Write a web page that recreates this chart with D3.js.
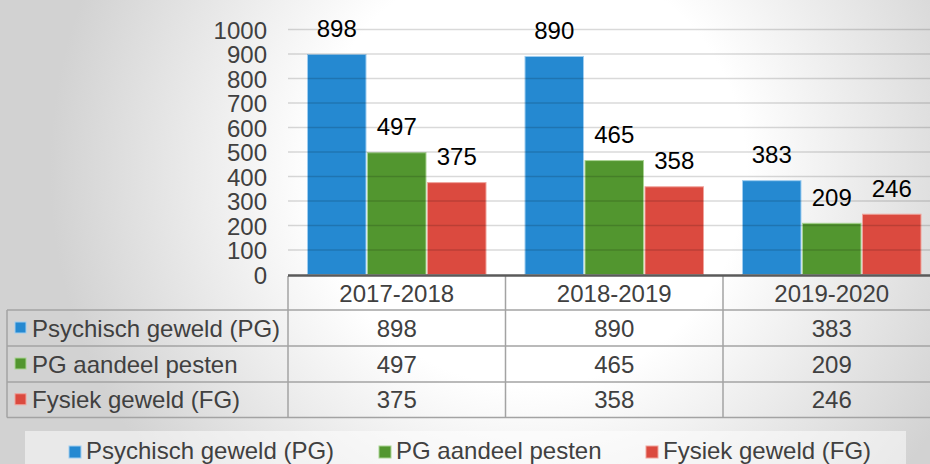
<!DOCTYPE html>
<meta charset="utf-8">
<style>
body { margin: 0; }
svg { display: block; font-family: "Liberation Sans", Arial, sans-serif; }
.axis text { font-size: 24px; fill: #404040; }
.axis path, .axis line { display: none; }
.lbl { font-size: 24px; fill: #000; text-anchor: middle; }
.cell { font-size: 24px; fill: #404040; }
.legend text { font-size: 24px; fill: #404040; }
</style>
<svg id="chart" width="930" height="464"></svg>
<script src="https://d3js.org/d3.v7.min.js"></script>
<script>

var years = ["2017-2018", "2018-2019", "2019-2020"];
var seriesNames = ["Psychisch geweld (PG)", "PG aandeel pesten", "Fysiek geweld (FG)"];
var psychisch = [898, 890, 383];
var pesten = [497, 465, 209];
var fysiek = [375, 358, 246];
var yTicks = [0, 100, 200, 300, 400, 500, 600, 700, 800, 900, 1000];

var colors = ["#2589d1", "#52962f", "#db4a3f"];
var edges = ["#9fcdf0", "#a9d393", "#f0a39c"];
var values = [psychisch, pesten, fysiek];

var W = 930, H = 464;
var plotLeft = 288, band = 217.5,
    plotTop = 29.5, plotBottom = 274.5;

var svg = d3.select("#chart");

// background
var defs = svg.append("defs");
var rg = defs.append("radialGradient")
    .attr("id", "bg")
    .attr("gradientUnits", "userSpaceOnUse")
    .attr("cx", 530).attr("cy", 170).attr("r", 480);
rg.append("stop").attr("offset", 0).attr("stop-color", "#ffffff");
rg.append("stop").attr("offset", 0.45).attr("stop-color", "#ffffff");
rg.append("stop").attr("offset", 1).attr("stop-color", "#d2d2d2");
svg.append("rect").attr("width", W).attr("height", H).attr("fill", "url(#bg)");

var x0 = d3.scaleBand()
    .domain(years)
    .range([plotLeft, plotLeft + band * years.length]);
var x1 = d3.scaleBand()
    .domain(d3.range(seriesNames.length))
    .range([19.5, band - 19.5])
    .paddingInner(0.025);
var y = d3.scaleLinear()
    .domain([0, 1000])
    .range([plotBottom, plotTop]);

// y axis labels
svg.append("g")
    .attr("class", "axis")
    .attr("transform", "translate(" + plotLeft + ",0)")
    .call(d3.axisLeft(y).tickValues(yTicks).tickFormat(d3.format("d")).tickSize(0).tickPadding(21))
    .selectAll("text").attr("dy", "0.36em");

// bars
var rows = [];
years.forEach(function(yr, i) {
  values.forEach(function(arr, s) {
    rows.push({year: yr, s: s, v: arr[i]});
  });
});

svg.append("g").selectAll("rect")
  .data(rows).enter().append("rect")
    .attr("x", function(d) { return x0(d.year) + x1(d.s); })
    .attr("y", function(d) { return y(d.v); })
    .attr("width", x1.bandwidth())
    .attr("height", function(d) { return y(0) - y(d.v); })
    .attr("fill", function(d) { return colors[d.s]; })
    .attr("stroke", function(d) { return edges[d.s]; })
    .attr("stroke-width", 1);

// gridlines over the bars
svg.append("g").selectAll("line")
  .data(yTicks.slice(1)).enter().append("line")
    .attr("x1", plotLeft).attr("x2", W)
    .attr("y1", function(d) { return y(d); })
    .attr("y2", function(d) { return y(d); })
    .attr("stroke", "rgba(0,0,0,0.15)")
    .attr("stroke-width", 1.5);

// value labels
svg.append("g").selectAll("text")
  .data(rows).enter().append("text")
    .attr("class", "lbl")
    .attr("x", function(d) { return x0(d.year) + x1(d.s) + x1.bandwidth() / 2; })
    .attr("y", function(d) { return y(d.v) - 17.5; })
    .text(function(d) { return d.v; });

// data table
var tTop = 276, rowH = [34, 36, 36, 35.5];
var rowY = [tTop];
rowH.forEach(function(h, i) { rowY.push(rowY[i] + h); });
var tLeft = 7;
var tbl = svg.append("g");
var gridC = "#a3a3a3";

// horizontal lines
rowY.slice(1).forEach(function(yy) {
  tbl.append("line").attr("x1", tLeft).attr("x2", W)
    .attr("y1", yy).attr("y2", yy)
    .attr("stroke", gridC).attr("stroke-width", 1.5);
});
// vertical lines
tbl.append("line").attr("x1", tLeft).attr("x2", tLeft)
  .attr("y1", rowY[1]).attr("y2", rowY[4]).attr("stroke", gridC).attr("stroke-width", 1.5);
years.forEach(function(yr) {
  tbl.append("line").attr("x1", x0(yr)).attr("x2", x0(yr))
    .attr("y1", tTop).attr("y2", rowY[4]).attr("stroke", gridC).attr("stroke-width", 1.5);
});
// axis line
tbl.append("line").attr("x1", plotLeft).attr("x2", W)
  .attr("y1", plotBottom + 1).attr("y2", plotBottom + 1)
  .attr("stroke", "#5a5a5a").attr("stroke-width", 2.5);

// header
years.forEach(function(yr) {
  tbl.append("text").attr("class", "cell")
    .attr("x", x0(yr) + band / 2).attr("y", (rowY[0] + rowY[1]) / 2)
    .attr("dy", "0.36em").attr("text-anchor", "middle").text(yr);
});
// rows
seriesNames.forEach(function(name, s) {
  var cy = (rowY[s + 1] + rowY[s + 2]) / 2;
  tbl.append("rect").attr("x", 15).attr("y", cy - 6).attr("width", 11).attr("height", 11)
    .attr("fill", colors[s]).attr("stroke", edges[s]).attr("stroke-width", 1);
  tbl.append("text").attr("class", "cell")
    .attr("x", 32).attr("y", cy).attr("dy", "0.36em").text(name);
  years.forEach(function(yr, i) {
    tbl.append("text").attr("class", "cell")
      .attr("x", x0(yr) + band / 2).attr("y", cy)
      .attr("dy", "0.36em").attr("text-anchor", "middle").text(values[s][i]);
  });
});

// legend
var legX = [69, 379, 646];
var leg = svg.append("g").attr("class", "legend");
leg.append("rect").attr("x", 25).attr("y", 431).attr("width", 881).attr("height", 40)
  .attr("fill", "rgba(255,255,255,0.5)");
seriesNames.forEach(function(name, s) {
  leg.append("rect").attr("x", legX[s]).attr("y", 446).attr("width", 12).attr("height", 12)
    .attr("fill", colors[s]).attr("stroke", edges[s]).attr("stroke-width", 1);
  leg.append("text").attr("x", legX[s] + 17).attr("y", 459).text(name);
});
</script>
